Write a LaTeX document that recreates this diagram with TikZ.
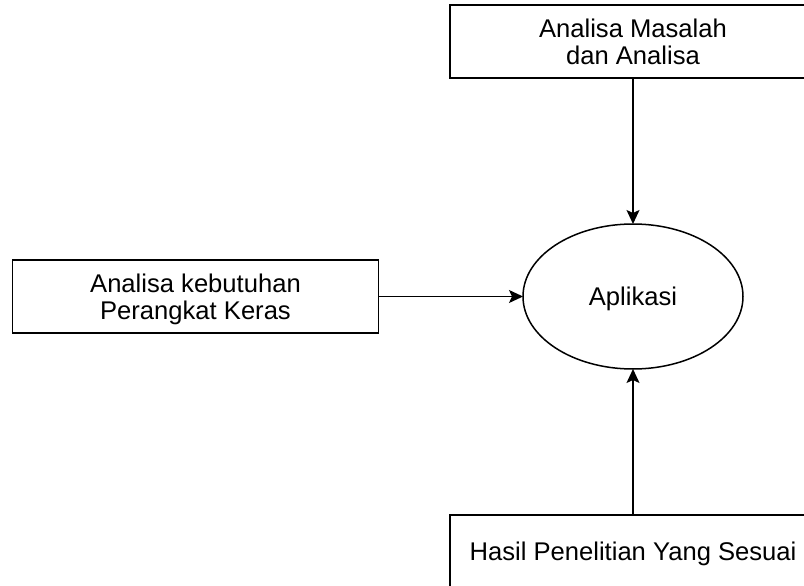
\documentclass[tikz,border=0pt]{standalone}
\usepackage{fontspec}
\setmainfont{Liberation Sans}
\usetikzlibrary{arrows.meta,shapes.geometric}

\begin{document}
\begin{tikzpicture}[x=1pt,y=-1pt,
  every node/.style={font=\fontsize{25.6}{26.5}\selectfont, text=black,
    align=center, text depth=0pt, inner sep=0pt, outer sep=0pt},
  procbox/.style={draw, line width=1.5pt, minimum width=366pt, minimum height=73pt},
  appoval/.style={draw, ellipse, line width=1.5pt, minimum width=220pt, minimum height=145pt},
  flow/.style={line width=1.5pt, -{Stealth[length=14pt,width=13pt,inset=3pt]}}]
  \useasboundingbox (0,0) rectangle (804,586);

  \node[procbox] (masalah) at (633,41.5) {Analisa Masalah\\dan Analisa};
  \node[procbox] (keras) at (195.5,296.5) {Analisa kebutuhan\\Perangkat Keras};
  \node[procbox] (hasil) at (633,551.5) {Hasil Penelitian Yang Sesuai};
  \node[appoval] (app) at (633,296.5) {Aplikasi};

  \draw[flow] (masalah.south) -- (app.north);
  \draw[flow] (keras.east) -- (app.west);
  \draw[flow] (hasil.north) -- (app.south);
\end{tikzpicture}
\end{document}
